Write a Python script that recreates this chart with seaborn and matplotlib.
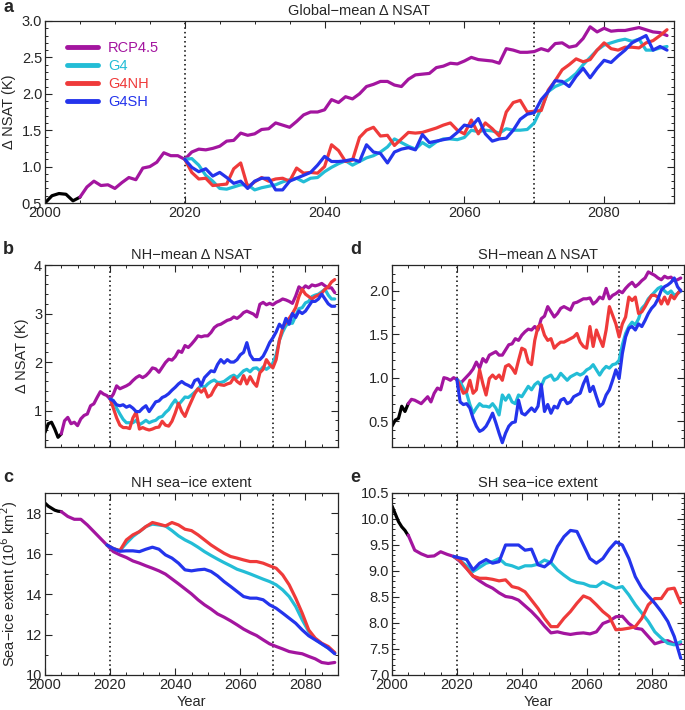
import matplotlib
matplotlib.use("Agg")
import matplotlib.pyplot as plt
from matplotlib.ticker import MultipleLocator
import seaborn as sns

# years
yrs_hist = list(range(2000, 2006))
yrs_rcp = list(range(2005, 2090))
yrs_geo = list(range(2020, 2090))
ice_hist = list(range(2000, 2006))
ice_rcp = list(range(2005, 2090, 2))
ice_geo = list(range(2019, 2090, 2))

# a: global-mean NSAT anomaly (K)
glb_hist = [0.50, 0.60, 0.63, 0.62, 0.53, 0.58]
glb_rcp = [0.58, 0.72, 0.80, 0.74, 0.75, 0.70, 0.78, 0.85, 0.82, 0.98,
           1.00, 1.06, 1.19, 1.15, 1.15, 1.10, 1.20, 1.24, 1.23, 1.25,
           1.28, 1.35, 1.36, 1.46, 1.43, 1.45, 1.51, 1.52, 1.60, 1.57,
           1.54, 1.62, 1.71, 1.75, 1.75, 1.78, 1.92, 1.88, 1.96, 1.93,
           2.00, 2.10, 2.13, 2.17, 2.17, 2.12, 2.10, 2.20, 2.26, 2.27,
           2.28, 2.36, 2.38, 2.42, 2.41, 2.45, 2.50, 2.47, 2.46, 2.45,
           2.42, 2.62, 2.60, 2.57, 2.57, 2.58, 2.62, 2.59, 2.69, 2.70,
           2.64, 2.66, 2.76, 2.92, 2.85, 2.90, 2.86, 2.87, 2.87, 2.89,
           2.91, 2.88, 2.85, 2.84, 2.80]
glb_g4 = [1.10, 1.11, 1.02, 0.88, 0.80, 0.70, 0.69, 0.72, 0.75, 0.75,
          0.68, 0.71, 0.73, 0.75, 0.79, 0.82, 0.84, 0.79, 0.84, 0.85,
          0.93, 0.99, 1.04, 1.08, 1.02, 1.07, 1.12, 1.15, 1.20, 1.27,
          1.38, 1.33, 1.28, 1.24, 1.33, 1.27, 1.34, 1.38, 1.38, 1.37,
          1.40, 1.50, 1.48, 1.50, 1.49, 1.46, 1.52, 1.50, 1.50, 1.51,
          1.60, 1.80, 2.03, 2.10, 2.14, 2.20, 2.28, 2.40, 2.50, 2.60,
          2.67, 2.70, 2.73, 2.75, 2.72, 2.75, 2.60, 2.60, 2.63, 2.65]
glb_g4nh = [1.10, 0.92, 0.83, 0.84, 0.74, 0.75, 0.76, 0.97, 1.05, 0.72,
            0.79, 0.85, 0.80, 0.83, 0.84, 0.80, 0.98, 0.91, 0.92, 0.91,
            1.00, 1.30, 1.22, 1.07, 1.09, 1.40, 1.50, 1.54, 1.42, 1.43,
            1.29, 1.38, 1.47, 1.46, 1.47, 1.50, 1.53, 1.57, 1.60, 1.50,
            1.45, 1.64, 1.45, 1.60, 1.52, 1.42, 1.75, 1.88, 1.91, 1.75,
            1.76, 1.77, 2.05, 2.18, 2.33, 2.40, 2.48, 2.44, 2.47, 2.60,
            2.70, 2.62, 2.60, 2.64, 2.64, 2.63, 2.70, 2.73, 2.80, 2.88]
glb_g4sh = [1.10, 0.99, 0.93, 0.97, 0.87, 0.92, 0.85, 0.77, 0.80, 0.70,
            0.80, 0.84, 0.84, 0.68, 0.68, 0.80, 0.84, 0.88, 0.92, 1.02,
            1.14, 1.07, 1.07, 1.08, 1.10, 1.07, 1.30, 1.20, 1.18, 1.05,
            1.20, 1.24, 1.26, 1.23, 1.44, 1.33, 1.35, 1.37, 1.39, 1.47,
            1.57, 1.55, 1.66, 1.45, 1.35, 1.38, 1.39, 1.50, 1.65, 1.72,
            1.74, 1.92, 2.03, 2.18, 2.17, 2.10, 2.24, 2.35, 2.22, 2.35,
            2.46, 2.43, 2.52, 2.60, 2.70, 2.75, 2.80, 2.60, 2.65, 2.60]

# b: NH-mean NSAT anomaly (K)
nh_hist = [0.55, 0.73, 0.76, 0.62, 0.45, 0.52]
nh_rcp = [0.52, 0.79, 0.86, 0.73, 0.76, 0.69, 0.83, 0.90, 0.93, 1.10,
          1.14, 1.27, 1.39, 1.34, 1.31, 1.24, 1.34, 1.51, 1.45, 1.48,
          1.51, 1.55, 1.62, 1.68, 1.72, 1.68, 1.72, 1.79, 1.88, 1.86,
          1.79, 1.89, 1.99, 2.06, 2.04, 2.11, 2.23, 2.20, 2.34, 2.30,
          2.37, 2.45, 2.54, 2.52, 2.54, 2.54, 2.61, 2.71, 2.76, 2.78,
          2.82, 2.86, 2.88, 2.93, 2.90, 2.95, 3.02, 3.05, 3.02, 2.99,
          2.93, 3.19, 3.23, 3.18, 3.21, 3.18, 3.23, 3.26, 3.30, 3.28,
          3.25, 3.21, 3.36, 3.55, 3.50, 3.57, 3.53, 3.59, 3.57, 3.59,
          3.62, 3.57, 3.53, 3.53, 3.43]
nh_g4 = [1.24, 1.21, 1.05, 0.93, 0.82, 0.75, 0.75, 0.75, 0.80, 0.71,
         0.75, 0.80, 0.75, 0.78, 0.80, 0.86, 0.88, 0.96, 1.02, 1.13,
         1.22, 1.12, 1.20, 1.28, 1.27, 1.32, 1.38, 1.45, 1.52, 1.48,
         1.55, 1.60, 1.63, 1.58, 1.58, 1.60, 1.65, 1.70, 1.73, 1.68,
         1.75, 1.82, 1.85, 1.80, 1.87, 1.88, 1.82, 1.90, 1.85, 1.90,
         1.98, 2.15, 2.45, 2.62, 2.75, 2.80, 2.80, 2.95, 3.10, 3.12,
         3.22, 3.25, 3.35, 3.38, 3.40, 3.45, 3.50, 3.38, 3.30, 3.30]
nh_g4nh = [1.24, 1.05, 0.85, 0.70, 0.65, 0.65, 0.63, 0.85, 0.97, 0.62,
           0.65, 0.62, 0.60, 0.62, 0.65, 0.66, 0.78, 0.70, 0.68, 0.78,
           0.95, 1.15, 0.98, 0.88, 1.05, 1.20, 1.35, 1.45, 1.38, 1.45,
           1.28, 1.32, 1.45, 1.55, 1.53, 1.52, 1.55, 1.57, 1.68, 1.60,
           1.55, 1.72, 1.55, 1.70, 1.58, 1.50, 1.78, 1.85, 2.05, 1.95,
           1.88, 2.05, 2.45, 2.70, 2.82, 2.90, 3.00, 3.12, 3.35, 3.50,
           3.40, 3.35, 3.30, 3.35, 3.38, 3.42, 3.50, 3.55, 3.65, 3.70]
nh_g4sh = [1.24, 1.20, 1.12, 1.10, 1.12, 1.07, 1.10, 1.05, 0.98, 0.98,
           1.05, 1.10, 0.98, 1.08, 1.18, 1.20, 1.27, 1.30, 1.35, 1.42,
           1.48, 1.55, 1.60, 1.55, 1.52, 1.48, 1.62, 1.65, 1.52, 1.68,
           1.75, 1.82, 1.80, 1.95, 2.05, 1.98, 2.05, 2.00, 2.00, 2.05,
           2.15, 2.20, 2.40, 2.15, 2.05, 2.05, 2.05, 2.12, 2.25, 2.40,
           2.50, 2.62, 2.78, 2.70, 2.90, 2.78, 3.00, 2.92, 3.05, 3.00,
           3.05, 3.15, 3.25, 3.25, 3.30, 3.40, 3.30, 3.20, 3.15, 3.15]

# d: SH-mean NSAT anomaly (K)
sh_hist = [0.44, 0.51, 0.53, 0.67, 0.61, 0.70]
sh_rcp = [0.70, 0.75, 0.74, 0.72, 0.70, 0.74, 0.78, 0.72, 0.82, 0.88,
          0.86, 1.00, 0.99, 0.97, 1.00, 0.98, 0.93, 0.97, 1.01, 1.05,
          1.10, 1.18, 1.11, 1.22, 1.18, 1.26, 1.28, 1.30, 1.26, 1.26,
          1.32, 1.38, 1.39, 1.45, 1.43, 1.49, 1.53, 1.56, 1.55, 1.59,
          1.55, 1.68, 1.71, 1.82, 1.76, 1.70, 1.74, 1.80, 1.82, 1.80,
          1.78, 1.86, 1.87, 1.89, 1.91, 1.91, 1.92, 1.85, 1.88, 1.93,
          1.91, 2.03, 1.91, 1.95, 1.97, 2.00, 1.98, 2.03, 2.07, 2.10,
          2.05, 2.08, 2.12, 2.15, 2.22, 2.20, 2.18, 2.15, 2.13, 2.17,
          2.15, 2.16, 2.12, 2.13, 2.15]
sh_g4 = [0.98, 0.95, 0.88, 0.82, 0.69, 0.59, 0.65, 0.70, 0.67, 0.67,
         0.66, 0.70, 0.65, 0.57, 0.80, 0.74, 0.80, 0.72, 0.70, 0.80,
         0.78, 0.84, 0.90, 0.86, 0.92, 0.95, 0.90, 0.99, 1.01, 1.03,
         0.97, 0.99, 1.05, 1.01, 0.97, 1.01, 1.03, 1.05, 1.03, 1.05,
         1.09, 1.11, 1.15, 1.09, 1.03, 1.09, 1.13, 1.11, 1.15, 1.16,
         1.20, 1.38, 1.51, 1.59, 1.64, 1.61, 1.68, 1.80, 1.84, 1.91,
         1.95, 1.99, 2.03, 2.05, 2.00, 1.97, 2.00, 1.95, 1.97, 2.00]
sh_g4nh = [0.98, 0.90, 0.82, 0.84, 0.97, 0.82, 0.86, 1.09, 0.93, 0.80,
           0.99, 1.03, 0.99, 1.03, 0.97, 1.13, 1.15, 1.11, 1.05, 1.20,
           1.34, 1.32, 1.18, 1.15, 1.43, 1.59, 1.61, 1.49, 1.43, 1.45,
           1.34, 1.38, 1.41, 1.41, 1.43, 1.45, 1.47, 1.51, 1.41, 1.36,
           1.34, 1.59, 1.36, 1.55, 1.45, 1.36, 1.55, 1.82, 1.72, 1.62,
           1.47, 1.62, 1.70, 1.93, 1.89, 1.93, 1.74, 1.76, 1.82, 1.89,
           1.95, 1.95, 1.93, 1.85, 1.93, 1.85, 1.95, 1.91, 1.97, 2.01]
sh_g4sh = [0.98, 0.72, 0.69, 0.70, 0.65, 0.53, 0.44, 0.38, 0.40, 0.44,
           0.51, 0.59, 0.48, 0.36, 0.25, 0.36, 0.44, 0.48, 0.49, 0.74,
           0.59, 0.57, 0.61, 0.65, 0.61, 0.67, 0.92, 0.61, 0.69, 0.59,
           0.67, 0.65, 0.74, 0.76, 0.70, 0.72, 0.78, 0.80, 0.82, 0.93,
           1.01, 0.84, 0.90, 0.78, 0.67, 0.70, 0.80, 0.86, 0.97, 1.09,
           0.99, 1.28, 1.47, 1.57, 1.59, 1.55, 1.62, 1.59, 1.66, 1.74,
           1.80, 1.84, 1.91, 2.01, 2.05, 2.07, 2.10, 2.15, 2.05, 2.00]

# c: NH sea-ice extent (10^6 km2)
nhice_hist = [18.50, 18.35, 18.25, 18.15, 18.10, 18.08]
nhice_rcp = [18.08, 17.84, 17.70, 17.70, 17.42, 17.09, 16.76, 16.43,
             16.10, 15.94, 15.81, 15.64, 15.53, 15.40, 15.28, 15.15, 14.99, 14.75,
             14.51, 14.26, 14.01, 13.72, 13.47, 13.26, 13.02, 12.86, 12.68, 12.48,
             12.27, 12.10, 11.95, 11.74, 11.54, 11.41, 11.29, 11.16, 11.10, 11.05,
             10.92, 10.80, 10.62, 10.57, 10.62]
nhice_g4 = [16.43, 16.25, 16.15, 16.52, 16.85, 17.09, 17.34, 17.46, 17.42, 17.37, 17.14,
            16.88, 16.68, 16.52, 16.32, 16.10, 15.91, 15.73, 15.56, 15.40, 15.23,
            15.12, 15.00, 14.87, 14.74, 14.62, 14.46, 14.21, 13.88, 13.39, 12.73,
            12.15, 11.77, 11.54, 11.33, 11.08]
nhice_g4nh = [16.43, 16.25, 16.15, 16.68, 16.93, 17.09, 17.34, 17.54, 17.46, 17.37, 17.54,
              17.42, 17.21, 17.14, 16.93, 16.68, 16.43, 16.22, 16.02, 15.86, 15.78,
              15.69, 15.61, 15.61, 15.53, 15.40, 15.28, 14.95, 14.46, 13.80, 13.06,
              12.23, 11.82, 11.57, 11.41, 11.11]
nhice_g4sh = [16.43, 16.25, 16.12, 16.14, 16.14, 16.10, 16.22, 16.32, 16.22, 15.94, 15.78,
              15.53, 15.20, 15.15, 15.20, 15.23, 15.12, 14.90, 14.62, 14.38, 14.13,
              13.88, 13.80, 13.80, 13.72, 13.47, 13.30, 13.06, 12.81, 12.56, 12.23,
              11.94, 11.74, 11.54, 11.33, 11.05]

# e: SH sea-ice extent (10^6 km2)
shice_hist = [10.25, 10.10, 9.95, 9.85, 9.78, 9.68]
shice_rcp = [9.69, 9.40, 9.33, 9.28, 9.29, 9.37, 9.32, 9.28,
             9.18, 9.05, 8.90, 8.81, 8.73, 8.67, 8.58, 8.51, 8.49, 8.44,
             8.33, 8.22, 8.09, 7.94, 7.81, 7.83, 7.80, 7.78, 7.80, 7.81,
             7.79, 7.83, 7.99, 8.04, 8.12, 8.13, 7.99, 7.90, 7.88, 7.74,
             7.60, 7.64, 7.66, 7.60, 7.60]
shice_g4 = [9.28, 9.20, 9.10, 8.99, 9.07, 9.15, 9.18, 9.24, 9.13, 9.10, 9.05,
            9.10, 9.10, 9.13, 9.21, 9.16, 9.02, 8.92, 8.83, 8.78, 8.76,
            8.71, 8.70, 8.79, 8.73, 8.67, 8.70, 8.54, 8.35, 8.19, 8.03,
            7.83, 7.71, 7.61, 7.58, 7.64]
shice_g4nh = [9.28, 9.20, 9.05, 8.90, 8.86, 8.86, 8.84, 8.81, 8.83, 8.70, 8.67,
              8.60, 8.44, 8.28, 8.09, 7.93, 7.93, 8.09, 8.22, 8.38, 8.52,
              8.47, 8.35, 8.22, 8.12, 7.87, 7.88, 7.90, 7.93, 8.09, 8.35,
              8.47, 8.47, 8.65, 8.67, 8.38]
shice_g4sh = [9.28, 9.25, 9.22, 9.02, 9.15, 9.22, 9.15, 9.18, 9.50, 9.50, 9.50,
              9.40, 9.42, 9.12, 9.08, 9.18, 9.47, 9.66, 9.78, 9.76, 9.50,
              9.24, 9.15, 9.24, 9.42, 9.56, 9.50, 9.24, 8.89, 8.67, 8.52,
              8.38, 8.22, 8.03, 7.74, 7.32]

colors = {"hist": "black", "RCP4.5": "#a3159f", "G4": "#23bdd6",
          "G4NH": "#ef3a3a", "G4SH": "#2434ec"}

sns.set_theme(style="ticks")
plt.rcParams["font.family"] = ["Liberation Sans", "DejaVu Sans"]
plt.rcParams["axes.linewidth"] = 0.9
plt.rcParams["xtick.direction"] = "in"
plt.rcParams["ytick.direction"] = "in"
plt.rcParams["xtick.top"] = True
plt.rcParams["ytick.right"] = True

fig = plt.figure(figsize=(6.85, 7.1), dpi=100)
W, H = 685, 710


def box(l, t, r, b):
    return [l / W, 1 - b / H, (r - l) / W, (b - t) / H]


ax_a = fig.add_axes(box(45, 21, 674, 203))
ax_b = fig.add_axes(box(45, 265, 338, 447))
ax_d = fig.add_axes(box(392, 265, 684, 447))
ax_c = fig.add_axes(box(45, 493, 338, 675))
ax_e = fig.add_axes(box(392, 493, 684, 675))

LW = 2.3
FS = 10.5


def draw(ax, xh, xr, xg, hist, rcp, g4, g4nh, g4sh, label=False):
    sns.lineplot(x=xh, y=hist, ax=ax, color=colors["hist"], lw=LW, legend=False)
    for nm, xs, ys in [("RCP4.5", xr, rcp), ("G4", xg, g4),
                       ("G4NH", xg, g4nh), ("G4SH", xg, g4sh)]:
        sns.lineplot(x=xs, y=ys, ax=ax, color=colors[nm], lw=LW,
                     label=nm if label else None, legend=False)
    for yr in (2020, 2070):
        ax.axvline(yr, color="black", ls=(0, (1, 2)), lw=1.1, zorder=0)
    ax.set_xlim(2000, 2090)
    ax.xaxis.set_major_locator(MultipleLocator(20))
    ax.xaxis.set_minor_locator(MultipleLocator(5))
    ax.tick_params(which="major", length=5, width=0.8, labelsize=FS, pad=2)
    ax.tick_params(which="minor", length=2.5, width=0.7)
    ax.set_xlabel("")
    ax.set_ylabel("")


draw(ax_a, yrs_hist, yrs_rcp, yrs_geo, glb_hist, glb_rcp, glb_g4, glb_g4nh, glb_g4sh, label=True)
ax_a.set_ylim(0.5, 3.0)
ax_a.yaxis.set_major_locator(MultipleLocator(0.5))
ax_a.yaxis.set_minor_locator(MultipleLocator(0.1))
ax_a.yaxis.set_major_formatter("{x:.1f}")
ax_a.set_ylabel("\u0394 NSAT (K)", fontsize=FS, labelpad=4)
ax_a.set_title("Global\u2212mean \u0394 NSAT", fontsize=FS, pad=4)
leg = ax_a.legend(loc="upper left", bbox_to_anchor=(0.035, 0.89), frameon=False,
                  fontsize=FS, handlelength=2.1, handletextpad=0.7,
                  labelspacing=0.28, borderaxespad=0, borderpad=0,
                  labelcolor="linecolor")
for ln in leg.get_lines():
    ln.set_linewidth(3.5)

draw(ax_b, yrs_hist, yrs_rcp, yrs_geo, nh_hist, nh_rcp, nh_g4, nh_g4nh, nh_g4sh)
ax_b.set_ylim(0.25, 4.0)
ax_b.yaxis.set_major_locator(MultipleLocator(1))
ax_b.yaxis.set_minor_locator(MultipleLocator(0.2))
ax_b.set_xticklabels([])
ax_b.set_ylabel("\u0394 NSAT (K)", fontsize=FS, labelpad=4)
ax_b.set_title("NH\u2212mean \u0394 NSAT", fontsize=FS, pad=4)

draw(ax_d, yrs_hist, yrs_rcp, yrs_geo, sh_hist, sh_rcp, sh_g4, sh_g4nh, sh_g4sh)
ax_d.set_ylim(0.2, 2.3)
ax_d.yaxis.set_major_locator(MultipleLocator(0.5))
ax_d.yaxis.set_minor_locator(MultipleLocator(0.1))
ax_d.yaxis.set_major_formatter("{x:.1f}")
ax_d.set_xticklabels([])
ax_d.set_title("SH\u2212mean \u0394 NSAT", fontsize=FS, pad=4)

draw(ax_c, ice_hist, ice_rcp, ice_geo, nhice_hist, nhice_rcp, nhice_g4, nhice_g4nh, nhice_g4sh)
ax_c.set_ylim(10, 19)
ax_c.yaxis.set_major_locator(MultipleLocator(2))
ax_c.yaxis.set_minor_locator(MultipleLocator(1))
ax_c.set_ylabel("Sea\u2212ice extent (10$^6$ km$^2$)", fontsize=FS, labelpad=4)
ax_c.set_xlabel("Year", fontsize=FS, labelpad=2)
ax_c.set_title("NH sea\u2212ice extent", fontsize=FS, pad=4)

draw(ax_e, ice_hist, ice_rcp, ice_geo, shice_hist, shice_rcp, shice_g4, shice_g4nh, shice_g4sh)
ax_e.set_ylim(7.0, 10.5)
ax_e.yaxis.set_major_locator(MultipleLocator(0.5))
ax_e.yaxis.set_minor_locator(MultipleLocator(0.1))
ax_e.yaxis.set_major_formatter("{x:.1f}")
ax_e.set_xlabel("Year", fontsize=FS, labelpad=2)
ax_e.set_title("SH sea\u2212ice extent", fontsize=FS, pad=4)

for lab, x, y in [("a", 3, 8), ("b", 3, 250), ("d", 350, 250), ("c", 3, 477), ("e", 350, 477)]:
    fig.text(x / W, 1 - y / H, lab, fontsize=13, fontweight="bold", va="center")

fig.savefig("out.png", dpi=100)
